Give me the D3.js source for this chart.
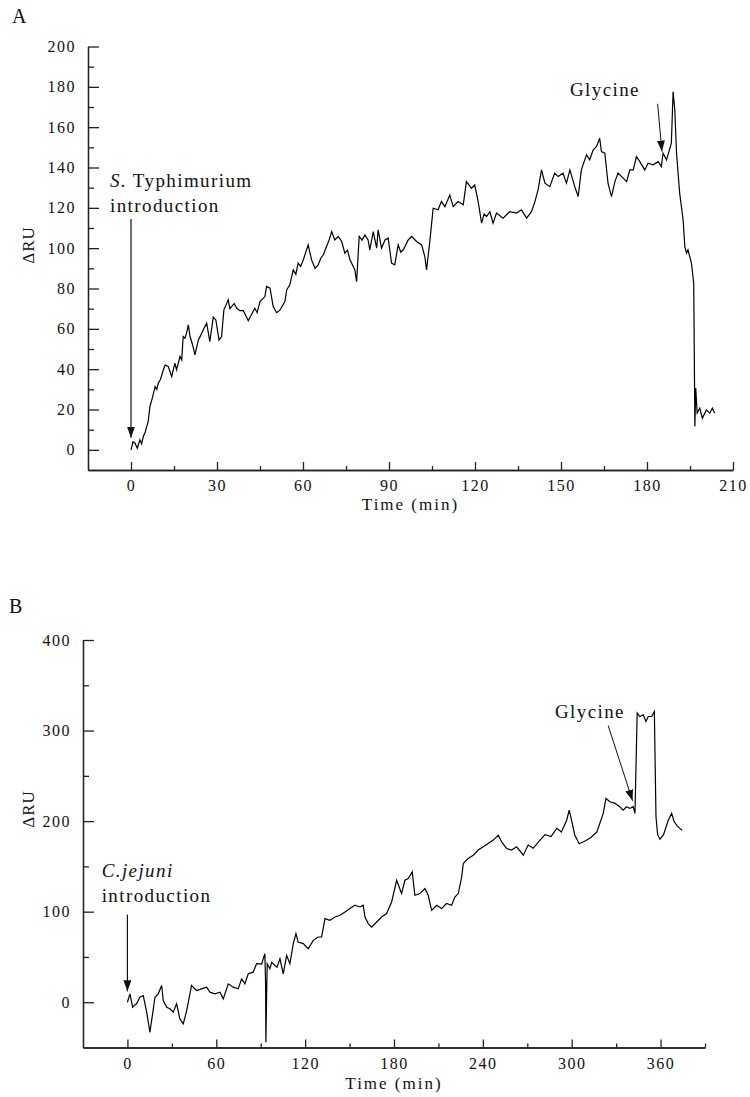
<!DOCTYPE html>
<html>
<head>
<meta charset="utf-8">
<script src="https://cdn.jsdelivr.net/npm/d3@7"></script>
<style>
body { margin: 0; background: #fff; }
svg text { font-family: "Liberation Serif", "Times New Roman", serif; fill: #111; }
</style>
</head>
<body>
<svg id="chart" width="750" height="1097"></svg>
<script>
// Panel A: S. Typhimurium, time (min) and response (ΔRU)
const timeA = [0,0.7,1.4,2.2,3.1,3.7,4.3,5,5.5,6,6.6,7.5,8.4,9,9.5,10.3,11.3,11.9,13,14.2,15.3,15.9,17.1,17.7,18.2,18.8,19.4,20,20.6,21.5,22.3,23.5,24.4,25.2,26.4,27.5,28.7,29.6,30.7,31.6,32.4,33.2,33.9,34.5,35.1,36,36.9,38,39.2,40.9,42,43.2,44,45,46.7,47.3,48.5,49.6,50.8,52,53.7,54.3,55.4,56.6,57.5,58.3,59.2,60.1,61.8,63,64.2,65.3,66.2,67.1,68.2,69.1,70,71.1,72.3,73.5,74.6,75.5,76.4,78.1,78.7,79.6,80.6,81.6,82.7,83.3,84.5,85.7,86.2,87.4,88.6,89.7,90.9,92,93.2,94.1,95,96.7,97.9,99.6,101.4,102.5,103.1,104.3,105.4,107.1,108.3,109.5,111.2,112.4,114.1,115.9,117,118.8,119.9,121.1,122.3,123.2,124,125.2,126.3,127.5,129.8,132.1,134.5,136.2,138,139.7,140.9,142,143.2,144.4,146.1,147.8,149,150.7,151.9,153.1,154.8,156,157.1,158.9,160,161.2,162.4,163.5,164.1,165.3,166.4,167.6,168.8,169.9,171.7,172.9,174,175.2,176.3,177.5,179.2,180.4,182.1,183.9,185,185.6,186.8,188.5,189.1,189.7,190.3,191.4,192.6,193.2,193.8,194.3,195.5,196.3,196.7,197,197.5,198.4,199.3,200.7,201.9,202.8,203.6]
const ruA = [0,4,3.3,0.8,5,3,6.6,9,11.6,14,21.5,26,31.4,30,33,35,39.7,42,41.3,36.3,43,39.7,46.3,44.6,56.2,55.4,58,62,56.2,52,47.1,54.5,57,59.5,62.8,53.7,65.8,64.4,54.5,56.2,69.4,72,74.4,70,71,72.5,70.2,69,69,64,67,70.2,68,73.5,76,81,80.2,71,68,69.4,73.5,79.3,81.8,89.2,87,92.6,91,94.2,101.6,94.2,90,91.7,95,96.7,100.8,104,108.2,104.1,105.8,103.3,97.5,99,94.2,89.2,83.4,105.8,104,106.6,104.1,99.2,108.2,100,109.1,100,104.1,105,92.6,91.7,101.6,98,99.2,104.1,105.8,103.3,101.6,95.8,89.2,104.1,119.8,119,123.1,120.6,126.4,120.6,123.1,121.5,133,129.7,131.4,123.1,112.4,117,115.7,118,112.4,117.4,114.9,118.1,117.4,119,114.9,118.1,123.1,128.9,138.8,132.2,130.5,137.2,135.5,137.2,132.2,138.8,130.5,125.6,138.8,146.3,143.8,148.7,150.4,154.5,147.9,147.1,132.2,125.6,133,137.2,134.7,133,138.8,138.8,145.4,142.9,138.8,142.1,141.3,142.9,140.5,147.1,143.8,152.1,177.6,168.6,147.1,127.3,114,100.8,97.5,99.2,92.6,82.6,11.6,30.6,18.2,20.7,15.7,19.8,18.2,20.7,18.2]

// Panel B: C. jejuni
const timeB = [0,1.7,3.5,5,6.2,8.4,10.7,13,15.2,17,18.6,20.8,23.1,24.2,26.5,28.7,30.9,33.2,35.4,37.7,40,43.3,46.7,50.1,53.5,55.7,59.1,62.5,64.7,68.1,71.4,74.8,77.1,79.3,81.6,84.9,87.2,90.6,92.8,93.3,93.5,94,94.4,96.2,97.4,99.6,101,103,105.2,107.5,109.7,112,113.8,115.3,118.7,122.1,125.5,128.8,131.1,133.4,136.7,140.1,143.5,146.9,150.2,153.6,157,159.2,160.4,162.6,164.9,168.3,171.6,175,178.4,181.8,185.1,187.4,189.6,192.3,194.1,197.5,200.9,203.1,205.4,208.8,212.2,215.5,218.9,221.1,223.4,225.7,226.8,230.1,233.5,236.9,240.2,243.6,247,250.4,252.7,256,259.4,262.8,267.3,270.6,274,278,282,286,290,293,296.6,298.3,299.9,302,305,309,313,317,321.3,323.1,325.8,329.2,332.5,334.7,337,339.3,341.5,342.7,344.2,346,348.3,350.1,351.7,354,355.8,356.9,358,359.6,362,365.2,367.5,369,371,373,374.5]
const ruB = [0,9.3,-5.5,-3,-1.8,5.5,7.4,-11,-33.2,-12.8,5.5,9.3,18.5,1.9,-5.5,-7.3,-11,-1.8,-18.4,-23.9,-9.2,18.5,13,14.8,16.6,11.1,9.3,11.1,3.7,20.3,16.6,14.8,25.9,20.3,31.4,33.2,42.5,42,53.6,20,-44.3,10,42.5,37,44,40.6,38.7,48,31.4,51.7,42.5,64.7,75.7,66.4,64.7,59.1,68.3,72,72,92.3,90.4,94.1,96,99.6,103.4,107.1,105.2,107.1,94.1,86.8,83,88.6,94.1,97.9,110.7,134.7,120,134.7,136.6,143.9,118.1,120,125.5,118.1,101.5,107.1,103.4,109,107.1,116.2,120,138.4,153.2,158.8,162.4,168,171.6,175.4,179,184.5,177.1,169.8,168,171.6,162.4,173.5,170,178,185,183,192,188,201,212,201,185,175,178,182,188,208.5,225,221.4,219.6,215.9,212.2,215.9,214,215.9,208.5,319.3,315.5,317.4,310,315.5,315.5,321,204.8,185,180,185,201,208.5,200,195,192,190]

// tick values
const xMajorA = [0,30,60,90,120,150,180,210]
const xMinorA = [15,45,75,105,135,165,195]
const yMajorA = [0,20,40,60,80,100,120,140,160,180,200]
const yMinorA = [10,30,50,70,90,110,130,150,170,190]
const xMajorB = [0,60,120,180,240,300,360]
const xMinorB = [30,90,150,210,270,330,390]
const yMajorB = [0,100,200,300,400]
const yMinorB = [50,150,250,350]

const svg = d3.select("#chart")

const defs = svg.append("defs")
defs.append("marker")
    .attr("id", "arrowhead")
    .attr("markerUnits", "userSpaceOnUse")
    .attr("markerWidth", 11)
    .attr("markerHeight", 8)
    .attr("refX", 11)
    .attr("refY", 4)
    .attr("orient", "auto")
  .append("path")
    .attr("d", "M0,0 L11,4 L0,8 Z")
    .attr("fill", "#111")

const panels = [
    {
        label: "A", labelX: 12, labelY: 23,
        time: timeA, ru: ruA,
        xDomain: [-15, 210], yDomain: [-10, 200],
        xMajor: xMajorA, xMinor: xMinorA, yMajor: yMajorA, yMinor: yMinorA,
        left: 88, right: 733, top: 46.5, bottom: 470,
        xTitleY: 510, yTitleY: 245,
        intro: {lines: [["S.", " Typhimurium"], ["", "introduction"]], x: 110, y: 187,
                from: [0, 114.5], to: [0, 6]},
        glycine: {x: 570, y: 96, from: [183.7, 171.6], to: [185.2, 147.9]}
    },
    {
        label: "B", labelX: 9, labelY: 613,
        time: timeB, ru: ruB,
        xDomain: [-30, 390], yDomain: [-50, 400],
        xMajor: xMajorB, xMinor: xMinorB, yMajor: yMajorB, yMinor: yMinorB,
        left: 83, right: 705, top: 640, bottom: 1047.5,
        xTitleY: 1089, yTitleY: 809,
        intro: {lines: [["C.jejuni", ""], ["", "introduction"]], x: 101.7, y: 877,
                from: [0, 96.7], to: [0, 12]},
        glycine: {x: 555, y: 718, from: [324.6, 305.6], to: [341.1, 222.5]}
    }
]

panels.forEach(drawPanel)

function styleAxis(g){
    g.attr("font-size", null).attr("font-family", null)
    g.select(".domain").attr("stroke", "#222").attr("stroke-width", 1.3)
    g.selectAll(".tick line").attr("stroke", "#222").attr("stroke-width", 1.3)
    g.selectAll(".tick text")
        .style("font-size", "16px")
        .style("letter-spacing", "1.5px")
}

function drawPanel(p){
    const x = d3.scaleLinear().domain(p.xDomain).range([p.left, p.right])
    const y = d3.scaleLinear().domain(p.yDomain).range([p.bottom, p.top])
    const g = svg.append("g")

    // minor ticks first, then major ticks with labels
    g.append("g")
        .attr("transform", `translate(0,${p.bottom})`)
        .call(d3.axisBottom(x).tickValues(p.xMinor).tickSizeInner(-4).tickSizeOuter(0).tickFormat(""))
        .call(styleAxis)
    g.append("g")
        .attr("transform", `translate(0,${p.bottom})`)
        .call(d3.axisBottom(x).tickValues(p.xMajor).tickSizeInner(-8).tickSizeOuter(0).tickPadding(10))
        .call(styleAxis)
    g.append("g")
        .attr("transform", `translate(${p.left},0)`)
        .call(d3.axisLeft(y).tickValues(p.yMinor).tickSizeInner(-6).tickSizeOuter(0).tickFormat(""))
        .call(styleAxis)
    g.append("g")
        .attr("transform", `translate(${p.left},0)`)
        .call(d3.axisLeft(y).tickValues(p.yMajor).tickSizeInner(-11).tickSizeOuter(0).tickPadding(12))
        .call(styleAxis)

    // trace
    const pts = p.time.map((t, i) => [t, p.ru[i]])
    const line = d3.line().x(d => x(d[0])).y(d => y(d[1]))
    g.append("path")
        .datum(pts)
        .attr("d", line)
        .attr("fill", "none")
        .attr("stroke", "#000")
        .attr("stroke-width", 1.2)
        .attr("stroke-linejoin", "miter")

    // labels
    g.append("text")
        .attr("x", p.labelX).attr("y", p.labelY)
        .style("font-size", "20px")
        .text(p.label)

    g.append("text")
        .attr("x", (p.left + p.right)/2).attr("y", p.xTitleY)
        .attr("text-anchor", "middle")
        .style("font-size", "17px")
        .style("letter-spacing", "2px")
        .text("Time (min)")

    g.append("text")
        .attr("transform", `translate(34,${p.yTitleY}) rotate(-90)`)
        .attr("text-anchor", "middle")
        .style("font-size", "17px")
        .style("letter-spacing", "1px")
        .text("ΔRU")

    // introduction annotation
    p.intro.lines.forEach((parts, i) => {
        const t = g.append("text")
            .attr("x", p.intro.x).attr("y", p.intro.y + i*24.5)
            .style("font-size", "19px")
            .style("letter-spacing", "1.4px")
        if(parts[0]) t.append("tspan").style("font-style", "italic").text(parts[0])
        if(parts[1]) t.append("tspan").text(parts[1])
    })
    g.append("line")
        .attr("x1", x(p.intro.from[0])).attr("y1", y(p.intro.from[1]))
        .attr("x2", x(p.intro.to[0])).attr("y2", y(p.intro.to[1]))
        .attr("stroke", "#111").attr("stroke-width", 1.2)
        .attr("marker-end", "url(#arrowhead)")

    // glycine annotation
    g.append("text")
        .attr("x", p.glycine.x).attr("y", p.glycine.y)
        .style("font-size", "19px")
        .style("letter-spacing", "1.4px")
        .text("Glycine")
    g.append("line")
        .attr("x1", x(p.glycine.from[0])).attr("y1", y(p.glycine.from[1]))
        .attr("x2", x(p.glycine.to[0])).attr("y2", y(p.glycine.to[1]))
        .attr("stroke", "#111").attr("stroke-width", 1)
        .attr("marker-end", "url(#arrowhead)")
}
</script>
</body>
</html>
